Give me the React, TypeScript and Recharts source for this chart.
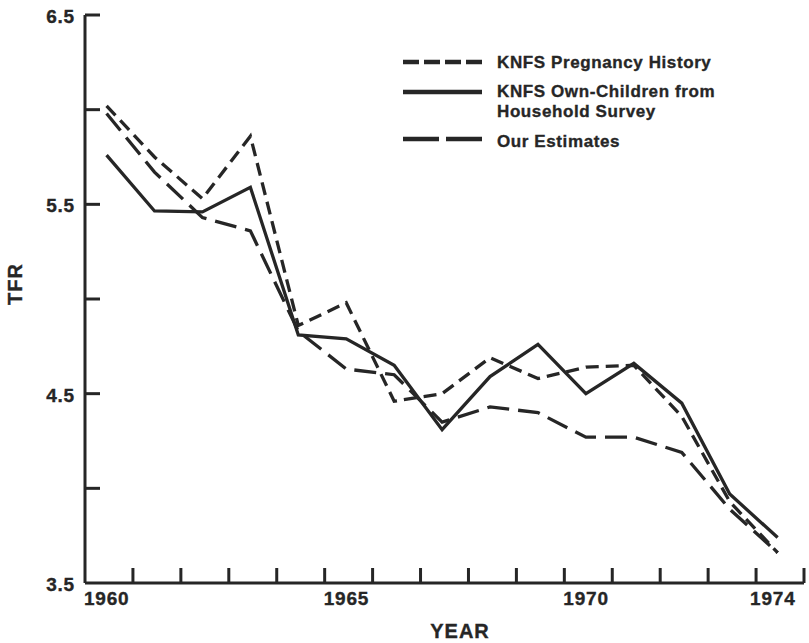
import React from "react";
import { LineChart, Line, XAxis, YAxis, Legend } from "recharts";

// Years (values are plotted at mid-year)
const years = [1960, 1961, 1962, 1963, 1964, 1965, 1966, 1967, 1968, 1969, 1970, 1971, 1972, 1973, 1974];
const pregnancyHistory = [6.02, 5.75, 5.53, 5.86, 4.86, 4.98, 4.46, 4.5, 4.69, 4.58, 4.64, 4.65, 4.38, 3.93, 3.66];
const ownChildren = [5.76, 5.465, 5.46, 5.59, 4.81, 4.79, 4.65, 4.31, 4.59, 4.76, 4.5, 4.66, 4.45, 3.97, 3.74];
const ourEstimates = [5.98, 5.67, 5.43, 5.36, 4.83, 4.63, 4.6, 4.35, 4.43, 4.4, 4.27, 4.27, 4.19, 3.89, 3.66];

const xTicks = [1960, 1961, 1962, 1963, 1964, 1965, 1966, 1967, 1968, 1969, 1970, 1971, 1972, 1973, 1974, 1975];
const xLabels = [1960, 1965, 1970, 1974];
const yTicks = [3.5, 4, 4.5, 5, 5.5, 6, 6.5];
const yLabels = [3.5, 4.5, 5.5, 6.5];

const MID_YEAR = 0.45;
const INK = "#262626";
const FONT = "'Liberation Sans', Arial, Helvetica, sans-serif";

const rows = years.map((y, i) => ({
  x: y + MID_YEAR,
  preg: pregnancyHistory[i],
  own: ownChildren[i],
  est: ourEstimates[i],
}));

const series = [
  { key: "preg", name: "KNFS Pregnancy History", dash: "13 7", legendDash: "16 5" },
  { key: "own", name: "KNFS Own-Children from|Household Survey", dash: undefined, legendDash: undefined },
  { key: "est", name: "Our Estimates", dash: "22 9", legendDash: "36 7" },
];

const textStyle = {
  fontFamily: FONT,
  fontWeight: "bold" as const,
  fill: INK,
  stroke: INK,
  strokeWidth: 0.35,
};

const YTick = (props: any) => {
  const { x, y, payload } = props;
  const v = payload.value;
  return (
    <g>
      {v !== 3.5 && <line x1={x} y1={y} x2={x + 15} y2={y} stroke={INK} strokeWidth={3} />}
      {yLabels.includes(v) && (
        <text x={x - 10} y={y + 8} textAnchor="end" fontSize={19} letterSpacing={0.8} {...textStyle}>
          {v.toFixed(1)}
        </text>
      )}
    </g>
  );
};

const XTick = (props: any) => {
  const { x, y, payload } = props;
  const v = payload.value;
  return (
    <g>
      {v !== 1960 && <line x1={x} y1={y} x2={x} y2={y - 15} stroke={INK} strokeWidth={3} />}
      {xLabels.includes(v) && (
        <text x={v === 1974 ? x - 6 : x - 1} y={y + 22} textAnchor="start" fontSize={19} letterSpacing={0.8} {...textStyle}>
          {String(v)}
        </text>
      )}
    </g>
  );
};

const LegendContent = () => {
  const rowsY = [17, 47, 94];
  const textY = [[23], [52, 72], [102]];
  return (
    <svg width={340} height={115} style={{ display: "block", overflow: "visible" }}>
      {series.map((s, i) => (
        <g key={s.key}>
          <line x1={8} x2={87} y1={rowsY[i]} y2={rowsY[i]} stroke={INK} strokeWidth={4.5} strokeDasharray={s.legendDash} />
          {s.name.split("|").map((t, j) => (
            <text key={j} x={102} y={textY[i][j]} fontSize={17} letterSpacing={0.6} {...textStyle}>
              {t}
            </text>
          ))}
        </g>
      ))}
    </svg>
  );
};

export default function App() {
  return (
    <div style={{ position: "absolute", left: 0, top: 0, width: 809, height: 643, background: "#fff" }}>
      <LineChart width={809} height={643} data={rows} margin={{ top: 15, right: 5, bottom: 0, left: 0 }}>
        <XAxis
          type="number"
          dataKey="x"
          domain={[1960, 1975]}
          ticks={xTicks}
          interval={0}
          height={60}
          tickSize={0}
          tickMargin={0}
          tickLine={false}
          axisLine={{ stroke: INK, strokeWidth: 3 }}
          tick={<XTick />}
          allowDataOverflow
        />
        <YAxis
          type="number"
          domain={[3.5, 6.5]}
          ticks={yTicks}
          interval={0}
          width={85}
          tickSize={0}
          tickMargin={0}
          tickLine={false}
          axisLine={{ stroke: INK, strokeWidth: 3 }}
          tick={<YTick />}
          allowDataOverflow
        />
        <Legend
          layout="vertical"
          align="center"
          verticalAlign="middle"
          content={<LegendContent />}
          wrapperStyle={{ left: 395, top: 45, width: 340, height: 115 }}
        />
        {series.map((s) => (
          <Line
            key={s.key}
            type="linear"
            dataKey={s.key}
            name={s.name}
            stroke={INK}
            strokeWidth={3.3}
            strokeDasharray={s.dash}
            dot={false}
            activeDot={false}
            isAnimationActive={false}
          />
        ))}
      </LineChart>
      <div style={{ position: "absolute", left: 0, top: 0, width: 809, height: 643, pointerEvents: "none" }}>
        <svg width={809} height={643}>
          <text x={0} y={0} transform="translate(22 284) rotate(-90)" textAnchor="middle" fontSize={20} letterSpacing={1} {...textStyle}>
            TFR
          </text>
          <text x={460} y={638} textAnchor="middle" fontSize={20} letterSpacing={1} {...textStyle}>
            YEAR
          </text>
        </svg>
      </div>
    </div>
  );
}
